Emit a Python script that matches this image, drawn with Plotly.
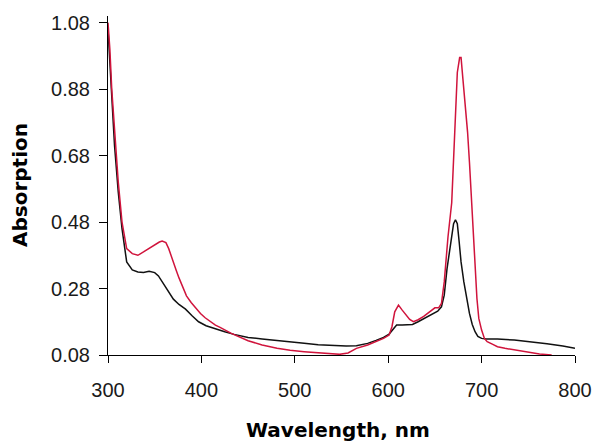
import plotly.graph_objects as go

# Black spectrum
black_wl = [300, 302, 304, 307, 311, 315, 320, 326, 332, 338, 344, 350, 354, 358, 362, 366, 370, 376, 383, 390,
            397, 405, 415, 425, 435, 450, 465, 480, 495, 510, 525, 540, 555, 566, 578, 587, 595, 601, 605, 609,
            615, 620, 626, 632, 640, 647, 653, 657, 660, 663, 666, 668, 670, 672, 674, 676, 678, 681, 684, 687,
            690, 693, 696, 700, 705, 717, 735, 752, 770, 787, 800]
black_abs = [1.06, 0.96, 0.82, 0.71, 0.57, 0.46, 0.36, 0.336, 0.33, 0.328, 0.332, 0.328, 0.318, 0.30, 0.28, 0.262, 0.248, 0.232, 0.218, 0.198,
             0.18, 0.168, 0.158, 0.150, 0.142, 0.133, 0.128, 0.123, 0.119, 0.115, 0.111, 0.108, 0.107, 0.108, 0.115, 0.124, 0.133, 0.143, 0.158, 0.170,
             0.170, 0.170, 0.172, 0.180, 0.192, 0.204, 0.212, 0.225, 0.26, 0.34, 0.40, 0.44, 0.475, 0.487, 0.475, 0.42, 0.36, 0.30, 0.25, 0.205,
             0.172, 0.150, 0.136, 0.130, 0.128, 0.128, 0.125, 0.120, 0.114, 0.107, 0.100]

# Red spectrum
red_wl = [300, 302, 304, 307, 311, 315, 320, 326, 332, 338, 344, 350, 355, 358, 362, 365, 369, 373, 376, 380,
          384, 389, 394, 399, 404, 410, 415, 420, 432, 450, 465, 481, 495, 510, 525, 538, 548, 557, 566, 578,
          587, 595, 601, 604, 607, 611, 615, 619, 623, 627, 632, 638, 644, 650, 654, 657, 660, 664, 668, 671,
          674, 676.5, 678, 680, 682, 685, 687, 689, 691, 693, 695, 697, 700, 703, 706, 712, 717, 725, 735, 745,
          752, 762, 775]
red_abs = [1.08, 1.00, 0.88, 0.76, 0.60, 0.48, 0.40, 0.385, 0.38, 0.39, 0.401, 0.412, 0.42, 0.423, 0.418, 0.40, 0.365, 0.335, 0.312, 0.285,
           0.258, 0.238, 0.22, 0.205, 0.192, 0.180, 0.170, 0.163, 0.145, 0.123, 0.11, 0.10, 0.094, 0.09, 0.086, 0.083, 0.082, 0.086, 0.10, 0.11,
           0.12, 0.13, 0.14, 0.165, 0.21, 0.23, 0.215, 0.20, 0.187, 0.18, 0.186, 0.196, 0.21, 0.222, 0.222, 0.235, 0.30, 0.435, 0.538, 0.74,
           0.93, 0.975, 0.975, 0.91, 0.85, 0.75, 0.66, 0.55, 0.45, 0.33, 0.25, 0.19, 0.155, 0.13, 0.12, 0.112, 0.105, 0.10, 0.095, 0.09,
           0.086, 0.083, 0.08]

x_ticks = [300, 400, 500, 600, 700, 800]
y_ticks = [0.08, 0.28, 0.48, 0.68, 0.88, 1.08]
y_ticktext = ["0.08", "0.28", "0.48", "0.68", "0.88", "1.08"]

fig = go.Figure()
fig.add_trace(go.Scatter(x=black_wl, y=black_abs, mode="lines",
                         line=dict(color="#111111", width=1.5), showlegend=False))
fig.add_trace(go.Scatter(x=red_wl, y=red_abs, mode="lines",
                         line=dict(color="#d0143c", width=1.5), showlegend=False))

tickfont = dict(family="Liberation Sans, Arial, sans-serif", size=20, color="#1a1a1a")
fig.update_layout(
    width=604, height=445,
    margin=dict(l=108, r=22, t=16, b=90),
    paper_bgcolor="white", plot_bgcolor="white",
    xaxis=dict(range=[300, 800], tickvals=x_ticks, showgrid=False, zeroline=False,
               showline=True, linecolor="black", linewidth=1,
               ticks="outside", ticklen=7, tickcolor="black", tickwidth=1,
               tickfont=tickfont, ticklabelstandoff=10),
    yaxis=dict(range=[0.08, 1.10], tickvals=y_ticks, ticktext=y_ticktext, showgrid=False, zeroline=False,
               showline=True, linecolor="black", linewidth=1,
               ticks="outside", ticklen=8, tickcolor="black", tickwidth=1,
               tickfont=tickfont, ticklabelstandoff=5),
    annotations=[
        dict(text="<b>Wavelength, nm</b>", xref="paper", yref="paper", x=(341 - 108) / 474, y=0,
             yshift=-75, xanchor="center", yanchor="middle", showarrow=False,
             font=dict(family="DejaVu Sans", size=20, color="black")),
        dict(text="<b>Absorption</b>", xref="paper", yref="paper", x=0, y=(355 - 185) / 339,
             xshift=-88, xanchor="center", yanchor="middle", textangle=-90, showarrow=False,
             font=dict(family="DejaVu Sans", size=20, color="black")),
    ],
)

fig.write_html("out.html")
